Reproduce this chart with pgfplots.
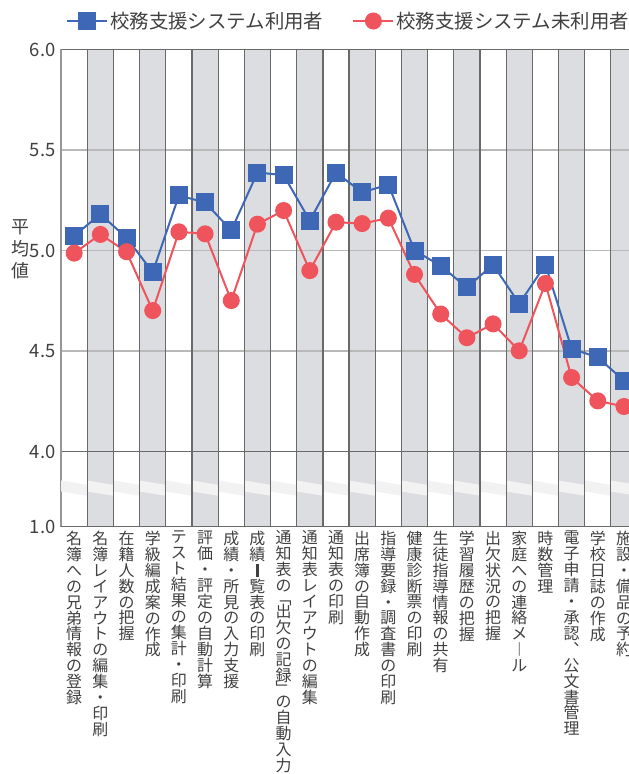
\documentclass[border=0pt]{standalone}
\usepackage{pgfplots}
\pgfplotsset{compat=1.18}
\usepackage{fontspec}
\setmainfont{Noto Sans CJK JP}

\definecolor{usrblue}{RGB}{62,104,181}
\definecolor{nonred}{RGB}{239,84,92}
\definecolor{colgray}{RGB}{220,221,224}
\definecolor{darkline}{RGB}{105,105,105}
\definecolor{lightline}{RGB}{185,185,185}
\definecolor{axisgray}{RGB}{150,150,150}
\definecolor{txt}{RGB}{64,64,64}

% vertical (tategaki-style) stacking of characters
\ExplSyntaxOn
\cs_new_protected:Npn \vt_item:n #1
  {
    \str_case:nnF {#1}
      {
        {「} { \skip_vertical:n {-3pt} \hbox_to_wd:nn {1em} {\hss ﹁ \hss} \skip_vertical:n {-3pt} }
        {」} { \skip_vertical:n {-3pt} \hbox_to_wd:nn {1em} {\hss ﹂ \hss} \skip_vertical:n {-3pt} }
        {ー} { \hbox_to_wd:nn {1em} {\hss ︱ \hss} }
        {、} { \hbox_to_wd:nn {1em} {\hss ︑ \hss} }
        {一} { \hbox_to_wd:nn {1em} {\hss \rule[-1pt]{2.6pt}{13pt} \hss} }
      }
      { \hbox_to_wd:nn {1em} { \hss #1 \hss } }
  }
\NewDocumentCommand \vtext { O{16pt} m }
  {
    \vbox
      {
        \baselineskip = #1 \relax
        \lineskiplimit = -100pt \relax
        \lineskip = 0pt \relax
        \tl_map_inline:nn {#2} { \vt_item:n {##1} }
      }
  }
\ExplSyntaxOff

\begin{document}
\begin{tikzpicture}
\begin{axis}[
  at={(0,0)}, anchor=south west,
  scale only axis,
  width=575.96bp, height=477.2bp,
  xmin=-0.5, xmax=21.5, ymin=3.626, ymax=6.0,
  clip=false,
  axis line style={draw=none},
  major tick length=0pt,
  xtick={0,...,21},
  xticklabels={
    {\vtext{名簿への兄弟情報の登録}},
    {\vtext{名簿レイアウトの編集・印刷}},
    {\vtext{在籍人数の把握}},
    {\vtext{学級編成案の作成}},
    {\vtext{テスト結果の集計・印刷}},
    {\vtext{評価・評定の自動計算}},
    {\vtext{成績・所見の入力支援}},
    {\vtext{成績一覧表の印刷}},
    {\vtext{通知表の「出欠の記録」の自動入力}},
    {\vtext{通知表レイアウトの編集}},
    {\vtext{通知表の印刷}},
    {\vtext{出席簿の自動作成}},
    {\vtext{指導要録・調査書の印刷}},
    {\vtext{健康診断票の印刷}},
    {\vtext{生徒指導情報の共有}},
    {\vtext{学習履歴の把握}},
    {\vtext{出欠状況の把握}},
    {\vtext{家庭への連絡メール}},
    {\vtext{時数管理}},
    {\vtext{電子申請・承認、公文書管理}},
    {\vtext{学校日誌の作成}},
    {\vtext{施設・備品の予約}}
  },
  ytick={3.626,4,4.5,5,5.5,6},
  yticklabels={1.0,4.0,4.5,5.0,5.5,6.0},
  /pgf/number format/assume math mode=true,
  xticklabel style={anchor=north, inner sep=0pt, yshift=-4bp,
    font=\fontsize{16}{16}\selectfont, text=txt},
  yticklabel style={anchor=east, inner sep=0pt, xshift=-5.5bp,
    font=\fontsize{18.5}{20}\selectfont, text=txt},
  ylabel={\vtext[22pt]{平均値}},
  every axis y label/.style={at={(axis description cs:0,0.581)}, anchor=center,
    xshift=-41bp, font=\fontsize{18}{18}\selectfont, text=txt},
  legend columns=2,
  legend style={draw=none, fill=none, inner sep=0pt,
    at={(axis description cs:0,1.0597)}, anchor=west, xshift=5bp,
    font=\fontsize{19.5}{22}\selectfont, text=txt,
    /tikz/every even column/.append style={column sep=27bp}},
  legend image code/.code={%
    \draw[mark repeat=2,mark phase=2] plot coordinates {(0bp,0bp)(20bp,0bp)(40bp,0bp)};},
]
% alternating column shading
\pgfplotsinvokeforeach{1,3,...,21}{
  \fill[colgray] (axis cs:{#1-0.5},3.626) rectangle (axis cs:{#1+0.5},6);
}
% horizontal grid
\draw[lightline, line width=1.3bp] (axis cs:-0.5,5.5) -- (axis cs:21.5,5.5);
\draw[lightline, line width=1.3bp] (axis cs:-0.5,5.0) -- (axis cs:21.5,5.0);
\draw[lightline, line width=1.3bp] (axis cs:-0.5,4.5) -- (axis cs:21.5,4.5);
\draw[darkline, line width=1.3bp] (axis cs:-0.5,6.0) -- (axis cs:21.5,6.0);
\draw[darkline, line width=1.3bp] (axis cs:-0.5,4.0) -- (axis cs:21.5,4.0);
% left axis
\draw[axisgray, line width=1.2bp] (axis cs:-0.5,3.626) -- (axis cs:-0.5,6);
% axis break band
\pgfplotsinvokeforeach{0,...,21}{
  \fill[white!95!black] (axis cs:{#1-0.5},3.856) -- (axis cs:{#1+0.5},3.834)
    -- (axis cs:{#1+0.5},3.780) -- (axis cs:{#1-0.5},3.801) -- cycle;
}
% column separators
\pgfplotsinvokeforeach{0,...,20}{
  \draw[darkline, line width=1.2bp] (axis cs:{#1+0.5},3.626) -- (axis cs:{#1+0.5},6);
}
\draw[darkline, line width=1.5bp] (axis cs:-0.5,3.626) -- (axis cs:21.5,3.626);

\addplot[color=usrblue, line width=2bp, mark=square*, mark size=8bp,
  mark options={solid, fill=usrblue}] coordinates {
  (0,5.073) (1,5.181) (2,5.063) (3,4.892) (4,5.274) (5,5.239) (6,5.100)
  (7,5.388) (8,5.375) (9,5.149) (10,5.388) (11,5.289) (12,5.328) (13,5.000)
  (14,4.924) (15,4.816) (16,4.930) (17,4.735) (18,4.930) (19,4.512)
  (20,4.468) (21,4.353)
};
\addlegendentry{校務支援システム利用者}
\addplot[color=nonred, line width=2bp, mark=*, mark size=7.5bp,
  mark options={solid, fill=nonred}] coordinates {
  (0,4.987) (1,5.080) (2,4.994) (3,4.701) (4,5.093) (5,5.083) (6,4.751)
  (7,5.131) (8,5.199) (9,4.900) (10,5.141) (11,5.134) (12,5.161) (13,4.881)
  (14,4.684) (15,4.566) (16,4.635) (17,4.501) (18,4.836) (19,4.368)
  (20,4.252) (21,4.224)
};
\addlegendentry{校務支援システム未利用者}
\end{axis}
\pgfresetboundingbox
\useasboundingbox (-61.1bp,-247.3bp) rectangle (567.9bp,526.7bp);
\end{tikzpicture}
\end{document}
